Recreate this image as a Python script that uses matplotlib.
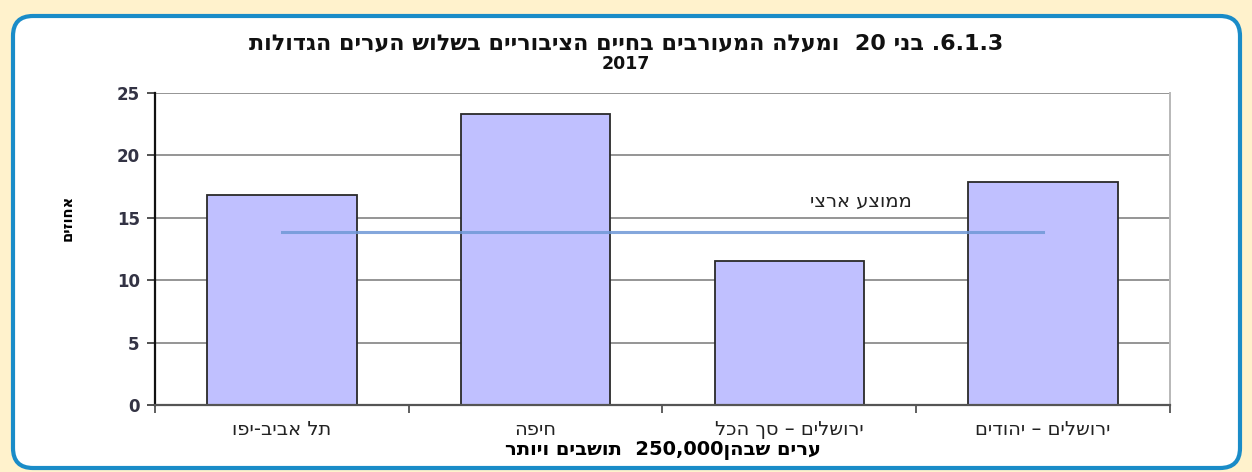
import re
import numpy as np
import matplotlib as mpl
mpl.use('Agg')
import matplotlib.pyplot as plt
from matplotlib.patches import FancyBboxPatch

plt.rcParams['font.family'] = ['DejaVu Sans', 'Liberation Sans']

# data
cities = ['תל אביב-יפו', 'חיפה', 'ירושלים – סך הכל', 'ירושלים – יהודים']
percent = [16.8, 23.3, 11.5, 17.9]
national_avg = 13.9
yticks = [0, 5, 10, 15, 20, 25]

title = '6.1.3. בני 20  ומעלה המעורבים בחיים הציבוריים בשלוש הערים הגדולות'
year = '2017'
xlab = 'ערים שבהן250,000  תושבים ויותר'
ylab = 'אחוזים'
avg_lab = 'ממוצע ארצי'


def visual(s):
    # matplotlib has no bidi: flip to visual order, keep number runs LTR
    r = s[::-1]
    return re.sub(r'[0-9][0-9.,]*[0-9]|[0-9]', lambda m: m.group(0)[::-1], r)


fig = plt.figure(figsize=(12.52, 4.72), dpi=100)
fig.patch.set_facecolor('#FFF2CC')

# rounded white panel with blue border (inches)
frame = FancyBboxPatch((0.33, 0.24), 11.87, 4.12,
                       boxstyle='round,pad=0.2,rounding_size=0.2',
                       transform=fig.dpi_scale_trans, facecolor='white',
                       edgecolor='#1A8CC8', linewidth=3, zorder=-5)
fig.patches.append(frame)

ax = fig.add_axes([0.1238, 0.142, 0.8107, 0.661])
ax.set_zorder(2)
ax.set_facecolor('white')
x = np.arange(len(cities))

ax.bar(x, percent, width=0.59, color='#C0C0FF', edgecolor='#2a2a2a',
       linewidth=1.3, zorder=2)
ax.plot([x[0], x[-1]], [national_avg, national_avg], color='#6F98D6',
        linewidth=2.2, alpha=0.85, zorder=3)
ax.text(2.28, 16.3, visual(avg_lab), ha='center', va='center', fontsize=14,
        color='#222222')

ax.set_xlim(-0.5, len(cities) - 0.5)
ax.set_ylim(0, 25)
ax.set_yticks(yticks)
ax.yaxis.grid(True, color='#959595', linewidth=1.4, zorder=0)
ax.set_axisbelow(True)

ax.set_xticks(np.arange(-0.5, len(cities), 1.0))
ax.set_xticklabels([])
ax.set_xticks(x, minor=True)
ax.set_xticklabels([visual(c) for c in cities], minor=True, fontsize=14,
                   color='#222222')
ax.tick_params(axis='x', which='minor', length=0, pad=11)
ax.tick_params(axis='x', which='major', length=6, width=1.2, color='#444444',
               direction='out')
ax.tick_params(axis='y', length=6, width=1.2, color='#333333', pad=5,
               labelsize=12, labelcolor='#333344')
for lbl in ax.get_yticklabels():
    lbl.set_fontweight('bold')

ax.spines['top'].set_visible(False)
ax.spines['right'].set_color('#b8b8b8')
ax.spines['right'].set_linewidth(1.4)
ax.spines['left'].set_color('#111111')
ax.spines['left'].set_linewidth(1.6)
ax.spines['bottom'].set_color('#555555')
ax.spines['bottom'].set_linewidth(1.6)

ax.set_xlabel(visual(xlab), fontsize=14, fontweight='bold', labelpad=1)
ax.set_ylabel(visual(ylab), fontsize=10.5, fontweight='bold')
ax.yaxis.set_label_coords(-0.079, 0.6)

fig.text(0.5, 0.908, visual(title), ha='center', va='center', fontsize=16,
         fontweight='bold', color='#111111')
fig.text(0.5, 0.864, year, ha='center', va='center', fontsize=12.5,
         fontweight='bold', color='#111111')

fig.savefig('out.png', dpi=100, facecolor=fig.get_facecolor())
